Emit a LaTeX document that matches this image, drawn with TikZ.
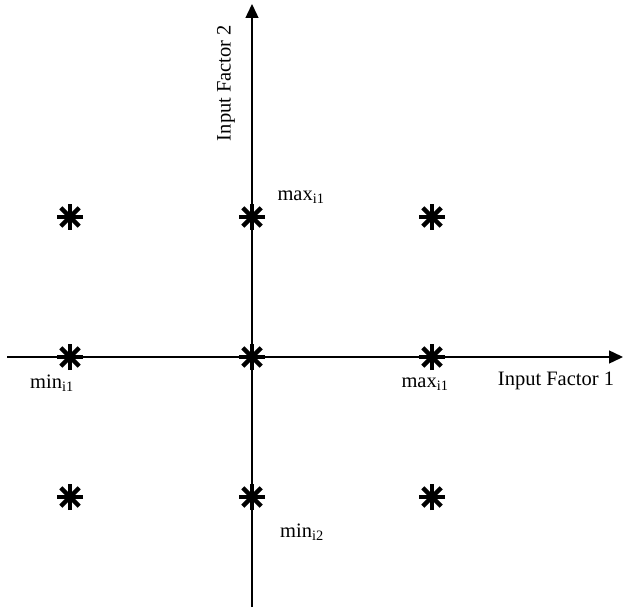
\documentclass[tikz,border=0pt]{standalone}
\usepackage{fontspec}
\setmainfont{Liberation Serif}
\usetikzlibrary{arrows.meta}
\tikzset{
  axis/.style={line width=1.4pt,-{Triangle[length=14pt,width=13pt]}},
  lbl/.style={font=\fontsize{20.5}{22}\selectfont, inner sep=0pt},
  starpt/.pic={\foreach \a in {0,45,90,135}{\draw[line width=4.4pt] (\a:13) -- (\a+180:13);}}
}
\begin{document}
\begin{tikzpicture}[x=1pt,y=-1pt]
\useasboundingbox (0,0) rectangle (623,609);
\coordinate (xs) at (7,357);
\coordinate (xe) at (623,357);
\coordinate (ys) at (252,607);
\coordinate (ye) at (252,4);
\draw[axis] (xs) -- (xe);
\draw[axis] (ys) -- (ye);
\foreach \i/\x in {a/70,b/252,c/432}{
  \foreach \j/\y in {1/217,2/357,3/497}{
    \pic (s\i\j) at (\x,\y) {starpt};
  }
}
\node[lbl] (minA) at (52,383) {min\textsubscript{i1}};
\node[lbl] (maxA) at (425,384) {max\textsubscript{i1}};
\node[lbl] (f1) at (556,381) {Input Factor 1};
\node[lbl] (maxB) at (301,197) {max\textsubscript{i1}};
\node[lbl] (minB) at (302,532) {min\textsubscript{i2}};
\node[lbl,rotate=90] (f2) at (226,83) {Input Factor 2};
\end{tikzpicture}
\end{document}
